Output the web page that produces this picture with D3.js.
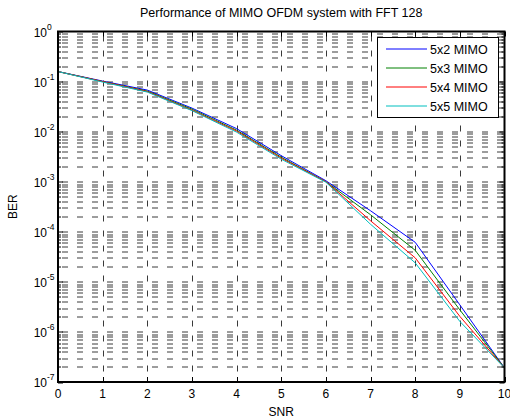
<!DOCTYPE html>
<html>
<head>
<meta charset="utf-8">
<script src="https://cdn.jsdelivr.net/npm/d3@7"></script>
<style>
  body { margin: 0; background: #fff; }
  text { font-family: "Liberation Sans", Arial, sans-serif; fill: #000; }
</style>
</head>
<body>
<div id="chart"></div>
<script>
// data (BER given as log10 values)
var snr = [0, 1, 2, 3, 4, 5, 6, 7, 8, 9, 10];
var seriesNames = ["5x2 MIMO", "5x3 MIMO", "5x4 MIMO", "5x5 MIMO"];
var seriesColors = ["#0000ff", "#008000", "#ff0000", "#00bfbf"];
var ber5x2 = [-0.80, -0.99, -1.17, -1.53, -1.94, -2.48, -2.98, -3.58, -4.21, -5.46, -6.72];
var ber5x3 = [-0.80, -1.00, -1.19, -1.55, -1.97, -2.51, -3.00, -3.66, -4.37, -5.56, -6.72];
var ber5x4 = [-0.80, -1.00, -1.20, -1.57, -1.99, -2.53, -3.00, -3.78, -4.52, -5.69, -6.72];
var ber5x5 = [-0.80, -1.01, -1.21, -1.58, -2.01, -2.55, -3.01, -3.85, -4.62, -5.79, -6.72];
var xTicks = [0, 1, 2, 3, 4, 5, 6, 7, 8, 9, 10];
var yExponents = [0, -1, -2, -3, -4, -5, -6, -7];

var allSeries = [ber5x2, ber5x3, ber5x4, ber5x5];

var W = 510, H = 419;
var margin = {top: 31.5, right: 5.5, bottom: 37, left: 58};
var width = W - margin.left - margin.right,
    height = H - margin.top - margin.bottom;

var svg = d3.select("#chart")
  .append("svg")
    .attr("width", W)
    .attr("height", H);

var g = svg.append("g")
    .attr("transform", "translate(" + margin.left + "," + margin.top + ")");

var x = d3.scaleLinear().domain([0, 10]).range([0, width]);
var y = d3.scaleLog().domain([1e-7, 1]).range([height, 0]);

// minor values for the log axis
var minorVals = [];
for (var e = -7; e < 0; e++) {
  for (var m = 2; m <= 9; m++) minorVals.push(m * Math.pow(10, e));
}
var majorVals = yExponents.map(function(p) { return Math.pow(10, p); });

// grid
g.append("g").selectAll("line.hg")
  .data(minorVals.concat(majorVals.filter(function(v) { return v > 1e-7 && v < 1; })))
  .enter().append("line")
    .attr("x1", 0).attr("x2", width)
    .attr("y1", function(d) { return Math.round(y(d)) + 0.5; })
    .attr("y2", function(d) { return Math.round(y(d)) + 0.5; })
    .attr("stroke", "#3a3a3a")
    .attr("stroke-width", 1)
    .attr("stroke-dasharray", "6,9")
    .attr("stroke-dashoffset", 11);

g.append("g").selectAll("line.vg")
  .data(xTicks.slice(1, -1))
  .enter().append("line")
    .attr("x1", function(d) { return Math.round(x(d)) + 0.5; })
    .attr("x2", function(d) { return Math.round(x(d)) + 0.5; })
    .attr("y1", 0).attr("y2", height)
    .attr("stroke", "#3a3a3a")
    .attr("stroke-width", 1)
    .attr("stroke-dasharray", "6,9")
    .attr("stroke-dashoffset", 11);

// lines
var line = d3.line()
  .x(function(d, i) { return x(snr[i]); })
  .y(function(d) { return y(Math.pow(10, d)); });

g.append("g").selectAll("path")
  .data(allSeries)
  .enter().append("path")
    .attr("d", line)
    .attr("fill", "none")
    .attr("stroke", function(d, i) { return seriesColors[i]; })
    .attr("stroke-width", 1);

// ticks inside, both sides
var ticks = g.append("g").attr("stroke", "#000").attr("stroke-width", 1);
xTicks.forEach(function(t) {
  var xx = Math.round(x(t)) + 0.5;
  ticks.append("line").attr("x1", xx).attr("x2", xx).attr("y1", height).attr("y2", height - 5);
  ticks.append("line").attr("x1", xx).attr("x2", xx).attr("y1", 0).attr("y2", 5);
});
majorVals.forEach(function(v) {
  var yy = Math.round(y(v)) + 0.5;
  ticks.append("line").attr("x1", 0).attr("x2", 5).attr("y1", yy).attr("y2", yy);
  ticks.append("line").attr("x1", width).attr("x2", width - 5).attr("y1", yy).attr("y2", yy);
});
minorVals.forEach(function(v) {
  var yy = Math.round(y(v)) + 0.5;
  ticks.append("line").attr("x1", 0).attr("x2", 3).attr("y1", yy).attr("y2", yy);
  ticks.append("line").attr("x1", width).attr("x2", width - 3).attr("y1", yy).attr("y2", yy);
});

// box
g.append("rect")
  .attr("x", 0).attr("y", 0)
  .attr("width", width).attr("height", height)
  .attr("fill", "none")
  .attr("stroke", "#000")
  .attr("stroke-width", 2);

// x tick labels
g.append("g").selectAll("text")
  .data(xTicks)
  .enter().append("text")
    .attr("x", function(d) { return x(d); })
    .attr("y", height + 16)
    .attr("text-anchor", "middle")
    .style("font-size", "12px")
    .text(function(d) { return d; });

// y tick labels: 10 with exponent
var yl = g.append("g");
yExponents.forEach(function(p) {
  var yy = y(Math.pow(10, p));
  yl.append("text")
    .attr("x", -11)
    .attr("y", yy + 5)
    .attr("text-anchor", "end")
    .style("font-size", "12px")
    .text("10");
  yl.append("text")
    .attr("x", -11)
    .attr("y", yy - 2)
    .attr("text-anchor", "start")
    .style("font-size", "8.5px")
    .text(p);
});

// title and axis labels
svg.append("text")
  .attr("x", margin.left + width / 2)
  .attr("y", 17)
  .attr("text-anchor", "middle")
  .style("font-size", "12.5px")
  .text("Performance of MIMO OFDM system with FFT 128");

svg.append("text")
  .attr("x", margin.left + width / 2)
  .attr("y", 416)
  .attr("text-anchor", "middle")
  .style("font-size", "12px")
  .text("SNR");

svg.append("text")
  .attr("transform", "translate(17," + (margin.top + height / 2) + ") rotate(-90)")
  .attr("text-anchor", "middle")
  .style("font-size", "12px")
  .text("BER");

// legend
var legend = svg.append("g");
legend.append("rect")
  .attr("x", 377.5).attr("y", 37.5)
  .attr("width", 121).attr("height", 80)
  .attr("fill", "#fff")
  .attr("stroke", "#000")
  .attr("stroke-width", 1);
seriesNames.forEach(function(name, i) {
  var ly = 49 + i * 19;
  legend.append("line")
    .attr("x1", 386).attr("x2", 427)
    .attr("y1", ly).attr("y2", ly)
    .attr("stroke", seriesColors[i])
    .attr("stroke-width", 1);
  legend.append("text")
    .attr("x", 430)
    .attr("y", ly + 4.5)
    .style("font-size", "12.5px")
    .text(name);
});
</script>
</body>
</html>
